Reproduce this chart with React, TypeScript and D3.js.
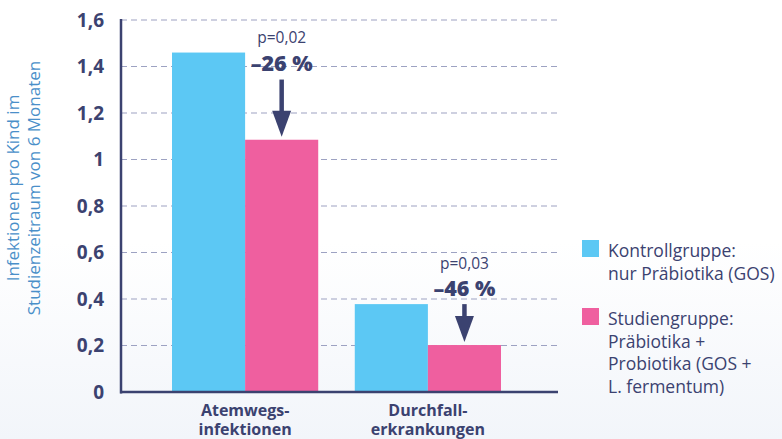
import React from "react";
import * as d3 from "d3";

const categories = ["Atemwegs-\ninfektionen", "Durchfall-\nerkrankungen"];
const seriesNames = ["Kontrollgruppe", "Studiengruppe"];
const kontrollValues = [1.46, 0.378];
const studienValues = [1.085, 0.202];
const pValues = ["p=0,02", "p=0,03"];
const changeLabels = ["–26 %", "–46 %"];
const yTicks = [0, 0.2, 0.4, 0.6, 0.8, 1, 1.2, 1.4, 1.6];
const legendLabels = [
  ["Kontrollgruppe:", "nur Präbiotika (GOS)"],
  ["Studiengruppe:", "Präbiotika +", "Probiotika (GOS +", "L. fermentum)"],
];

const W = 782;
const H = 439;
const NAVY = "#3b4270";
const BLUE = "#5cc8f4";
const PINK = "#ef5f9f";
const FONT = "'Open Sans', Lato, sans-serif";

export default function App() {
  const y = d3.scaleLinear().domain([0, 1.6]).range([392, 20]);
  const x0 = d3.scaleBand<string>().domain(categories).range([172, 501]).paddingInner(0.2).paddingOuter(0);
  const x1 = d3.scaleBand<string>().domain(seriesNames).range([0, x0.bandwidth()]).padding(0);
  const colors = [BLUE, PINK];
  const data = [kontrollValues, studienValues];
  const axisX = 121;
  const gridEnd = 558;
  const fmt = (v: number) => (v === 0 ? "0" : v === 1 ? "1" : String(v).replace(".", ","));

  return (
    <svg width={W} height={H} style={{ position: "absolute", left: 0, top: 0, background: "#fff" }}>
      <defs>
        <linearGradient id="bg" x1="0" y1="0" x2="0" y2="1">
          <stop offset="0" stopColor="#ffffff" />
          <stop offset="0.55" stopColor="#ffffff" />
          <stop offset="1" stopColor="#f2f5fa" />
        </linearGradient>
      </defs>
      <rect x={0} y={0} width={W} height={H} fill="url(#bg)" />
      {/* grid */}
      {yTicks.filter((t) => t > 0).map((t) => (
        <line key={t} x1={axisX} x2={gridEnd} y1={y(t)} y2={y(t)} stroke="#9da2c2" strokeWidth={1.2} strokeDasharray="6 4" />
      ))}
      {/* bars */}
      {categories.map((c, i) => (
        <g key={c} transform={`translate(${x0(c)},0)`}>
          {seriesNames.map((s, j) => (
            <rect key={s} x={x1(s)} y={y(data[j][i])} width={x1.bandwidth()} height={y(0) - y(data[j][i])} fill={colors[j]} />
          ))}
        </g>
      ))}
      {/* axes */}
      <line x1={axisX} x2={axisX} y1={y(1.6) - 1} y2={y(0) + 1.5} stroke={NAVY} strokeWidth={2.5} />
      <line x1={axisX - 1} x2={gridEnd} y1={y(0)} y2={y(0)} stroke={NAVY} strokeWidth={2.5} />
      {yTicks.map((t) => (
        <text key={t} x={104} y={y(t)} dy="0.36em" textAnchor="end" fontFamily={FONT} fontWeight={700} fontSize={19} fill={NAVY}>
          {fmt(t)}
        </text>
      ))}
      {/* y label */}
      <text transform={`translate(19,188) rotate(-90)`} textAnchor="middle" fontFamily={FONT} fontSize={17} fill="#4a8fc9">
        <tspan x={0} y={0}>Infektionen pro Kind im</tspan>
        <tspan x={0} y={21}>Studienzeitraum von 6 Monaten</tspan>
      </text>
      {/* category labels */}
      {categories.map((c) => {
        const cx = (x0(c) as number) + x0.bandwidth() / 2;
        const lines = c.split("\n");
        return (
          <text key={c} textAnchor="middle" fontFamily={FONT} fontWeight={700} fontSize={16} fill={NAVY}>
            <tspan x={cx} y={416}>{lines[0]}</tspan>
            <tspan x={cx} y={435}>{lines[1]}</tspan>
          </text>
        );
      })}
      {/* annotations */}
      {categories.map((c, i) => {
        const cx = (x0(c) as number) + (x1(seriesNames[1]) as number) + x1.bandwidth() / 2;
        const top = y(kontrollValues[i]) + (i === 0 ? 27 : 0);
        const tip = y(studienValues[i]) - 3;
        const headLen = 26;
        return (
          <g key={c}>
            <text x={cx} y={y(kontrollValues[i]) - (i === 0 ? 10 : 35)} textAnchor="middle" fontFamily={FONT} fontSize={15.5} fill={NAVY}>
              {pValues[i]}
            </text>
            <text x={cx} y={y(kontrollValues[i]) + (i === 0 ? 18 : -8)} textAnchor="middle" fontFamily={FONT} fontWeight={800} fontSize={21.5} fill={NAVY}>
              {changeLabels[i]}
            </text>
            <line x1={cx} x2={cx} y1={top} y2={tip - headLen + 2} stroke={NAVY} strokeWidth={4.5} />
            <path d={`M${cx - 9.5},${tip - headLen} L${cx + 9.5},${tip - headLen} L${cx},${tip} Z`} fill={NAVY} />
          </g>
        );
      })}
      {/* legend */}
      {legendLabels.map((lines, i) => {
        const ly = i === 0 ? 240 : 308;
        return (
          <g key={i}>
            <rect x={582} y={ly} width={17} height={17} fill={colors[i]} />
            <text fontFamily={FONT} fontSize={17.5} fill={NAVY}>
              {lines.map((l, k) => (
                <tspan key={k} x={608} y={ly + 17 + k * 22.5}>{l}</tspan>
              ))}
            </text>
          </g>
        );
      })}
    </svg>
  );
}
